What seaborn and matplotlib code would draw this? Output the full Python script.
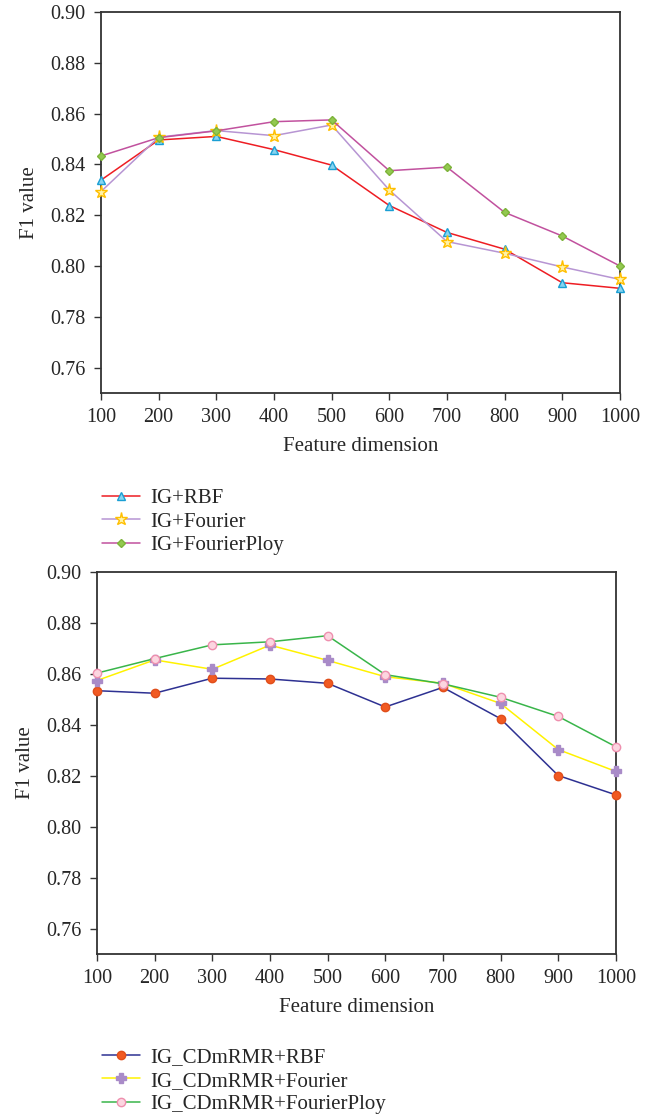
import numpy as np
import pandas as pd
import matplotlib
matplotlib.use("Agg")
import matplotlib.pyplot as plt
import seaborn as sns

# ---- data ----
dims = [100, 200, 300, 400, 500, 600, 700, 800, 900, 1000]

ig_rbf = [0.8338, 0.8496, 0.8510, 0.8458, 0.8397, 0.8238, 0.8132, 0.8066, 0.7934, 0.7912]
ig_fourier = [0.8293, 0.8507, 0.8533, 0.8513, 0.8555, 0.8299, 0.8096, 0.8050, 0.7996, 0.7947]
ig_ploy = [0.8433, 0.8505, 0.8532, 0.8568, 0.8575, 0.8375, 0.8389, 0.8211, 0.8118, 0.8000]

cd_rbf = [0.8534, 0.8524, 0.8583, 0.8580, 0.8563, 0.8470, 0.8547, 0.8424, 0.8201, 0.8125]
cd_fourier = [0.8574, 0.8655, 0.8618, 0.8713, 0.8653, 0.8589, 0.8563, 0.8484, 0.8303, 0.8217]
cd_ploy = [0.8603, 0.8660, 0.8714, 0.8726, 0.8750, 0.8597, 0.8561, 0.8508, 0.8433, 0.8314]

top_labels = ["IG+RBF", "IG+Fourier", "IG+FourierPloy"]
bottom_labels = ["IG_CDmRMR+RBF", "IG_CDmRMR+Fourier", "IG_CDmRMR+FourierPloy"]

yticks = [0.76, 0.78, 0.80, 0.82, 0.84, 0.86, 0.88, 0.90]

sns.set_style("ticks")
plt.rcParams["font.family"] = ["Liberation Serif", "DejaVu Serif"]

# line colour, marker, face, edge, size
top_styles = [
    ("#ee1d23", "^", "#86d4f0", "#1a9fd4", 6),
    ("#b795d3", "*", "#fff3a8", "#ffbf00", 9.5),
    ("#c1519e", "D", "#93c950", "#7db33a", 4.5),
]
bottom_styles = [
    ("#2e3192", "o", "#f15a22", "#e04e1a", 6),
    ("#fff200", "P", "#a98bc8", "#a98bc8", 6.5),
    ("#39b54a", "o", "#fcd5e0", "#ee8fae", 6),
]

fig = plt.figure(figsize=(6.61, 11.17), dpi=100)
ax1 = fig.add_axes([0.1528, 0.6482, 0.785, 0.3411])
ax2 = fig.add_axes([0.1467, 0.1459, 0.785, 0.342])


def draw(ax, series, labels, styles):
    for vals, lab, (lc, m, fc, ec, ms) in zip(series, labels, styles):
        df = pd.DataFrame({"dim": dims, "f1": vals})
        sns.lineplot(data=df, x="dim", y="f1", ax=ax, color=lc, linewidth=1.1,
                     marker=m, markersize=ms, markerfacecolor=fc,
                     markeredgecolor=ec, markeredgewidth=1.0, label=lab,
                     clip_on=False, zorder=3)
    ax.set_xlim(100, 1000)
    ax.set_ylim(0.75, 0.90)
    ax.set_xticks(dims)
    ax.set_yticks(yticks)
    ax.set_yticklabels([f"{t:.2f}" for t in yticks])
    ax.tick_params(axis="both", labelsize=14.5, direction="out", length=5,
                   width=1, color="#333333", pad=6)
    ax.set_xlabel("Feature dimension", fontsize=15, labelpad=7)
    ax.set_ylabel("F1 value", fontsize=15, labelpad=8)
    for s in ax.spines.values():
        s.set_visible(True)
        s.set_linewidth(1.3)
        s.set_color("#333333")
    ax.get_legend().remove()
    h, l = ax.get_legend_handles_labels()
    return h, l


h1, l1 = draw(ax1, [ig_rbf, ig_fourier, ig_ploy], top_labels, top_styles)
h2, l2 = draw(ax2, [cd_rbf, cd_fourier, cd_ploy], bottom_labels, bottom_styles)

leg_kw = dict(loc="upper left", frameon=False, fontsize=15, handlelength=1.8,
              handletextpad=0.5, labelspacing=0.2, borderaxespad=0)
fig.legend(h1, l1, bbox_to_anchor=(0.142, 1 - 480 / 1117), **leg_kw)
fig.legend(h2, l2, bbox_to_anchor=(0.142, 1 - 1039 / 1117), **leg_kw)

fig.savefig("out.png", dpi=100)
